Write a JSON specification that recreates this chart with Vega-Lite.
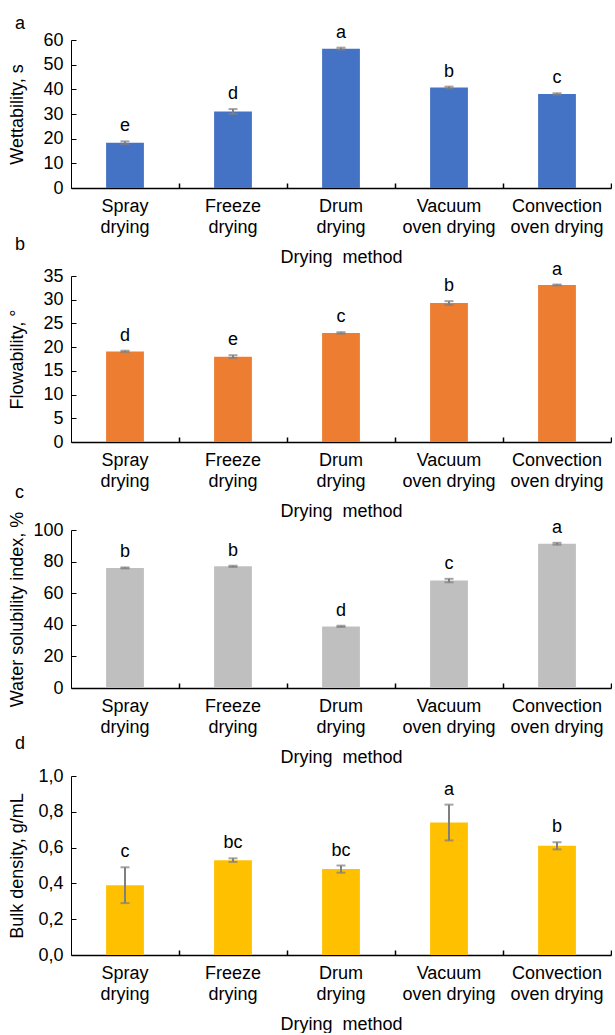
{
  "$schema": "https://vega.github.io/schema/vega-lite/v6.json",
  "padding": {"top": 14, "left": 8, "right": 0, "bottom": 0},
  "bounds": "flush",
  "spacing": 88,
  "config": {
    "view": {"stroke": null},
    "font": "Liberation Sans",
    "axis": {"labelFont": "Liberation Sans", "titleFont": "Liberation Sans", "labelFontSize": 18, "titleFontSize": 18, "labelColor": "#000", "titleColor": "#000", "titleFontWeight": "normal", "domainColor": "#000", "tickColor": "#000", "grid": false},
    "axisY": {"labelOverlap": false, "labelFlush": false},
    "title": {"font": "Liberation Sans", "fontSize": 18, "fontWeight": "normal", "color": "#000", "anchor": "start", "frame": "group", "dx": -56}
  },
  "datasets": {
    "wet": [
      {"method": "Spray drying", "mean": 18.3, "lo": 17.8, "hi": 18.9, "letter": "e"},
      {"method": "Freeze drying", "mean": 31.0, "lo": 30.0, "hi": 32.0, "letter": "d"},
      {"method": "Drum drying", "mean": 56.5, "lo": 56.1, "hi": 56.9, "letter": "a"},
      {"method": "Vacuum oven drying", "mean": 40.7, "lo": 40.3, "hi": 41.1, "letter": "b"},
      {"method": "Convection oven drying", "mean": 38.1, "lo": 37.8, "hi": 38.4, "letter": "c"}
    ],
    "flow": [
      {"method": "Spray drying", "mean": 19.1, "lo": 18.95, "hi": 19.25, "letter": "d"},
      {"method": "Freeze drying", "mean": 18.0, "lo": 17.7, "hi": 18.3, "letter": "e"},
      {"method": "Drum drying", "mean": 23.0, "lo": 22.85, "hi": 23.15, "letter": "c"},
      {"method": "Vacuum oven drying", "mean": 29.3, "lo": 28.9, "hi": 29.7, "letter": "b"},
      {"method": "Convection oven drying", "mean": 33.1, "lo": 33.0, "hi": 33.2, "letter": "a"}
    ],
    "wsi": [
      {"method": "Spray drying", "mean": 76.0, "lo": 75.7, "hi": 76.3, "letter": "b"},
      {"method": "Freeze drying", "mean": 77.0, "lo": 76.6, "hi": 77.4, "letter": "b"},
      {"method": "Drum drying", "mean": 39.0, "lo": 38.6, "hi": 39.4, "letter": "d"},
      {"method": "Vacuum oven drying", "mean": 68.0, "lo": 66.9, "hi": 69.1, "letter": "c"},
      {"method": "Convection oven drying", "mean": 91.3, "lo": 90.7, "hi": 91.9, "letter": "a"}
    ],
    "bulk": [
      {"method": "Spray drying", "mean": 0.39, "lo": 0.29, "hi": 0.49, "letter": "c"},
      {"method": "Freeze drying", "mean": 0.53, "lo": 0.52, "hi": 0.54, "letter": "bc"},
      {"method": "Drum drying", "mean": 0.48, "lo": 0.46, "hi": 0.50, "letter": "bc"},
      {"method": "Vacuum oven drying", "mean": 0.74, "lo": 0.64, "hi": 0.84, "letter": "a"},
      {"method": "Convection oven drying", "mean": 0.61, "lo": 0.59, "hi": 0.63, "letter": "b"}
    ]
  },
  "vconcat": [
    {
      "width": 540, "height": 148,
      "title": {"text": "a", "offset": -9},
      "data": {"name": "wet"},
      "resolve": {"axis": {"y": "independent"}},
      "encoding": {"x": {"field": "method", "type": "nominal", "sort": null, "scale": {"paddingInner": 0.65, "paddingOuter": 0.325},
        "axis": {"title": "Drying\u00a0\u00a0method", "labelAngle": 0, "labelExpr": "datum.label == 'Vacuum oven drying' ? ['Vacuum', 'oven drying'] : datum.label == 'Convection oven drying' ? ['Convection', 'oven drying'] : split(datum.label, ' ')", "labelLineHeight": 21, "labelBaseline": "top", "labelPadding": 14, "tickSize": -5, "tickWidth": 1.5, "bandPosition": 1.9286, "domainWidth": 1.5, "titlePadding": 12}}},
      "layer": [
        {"mark": {"type": "bar", "color": "#4472C4"}, "encoding": {"y": {"field": "mean", "type": "quantitative", "scale": {"domain": [0, 60], "nice": false}, "axis": {"title": "Wettability, s", "values": [0, 10, 20, 30, 40, 50, 60], "labelOverlap": false, "tickSize": -5, "labelPadding": 13, "titlePadding": 16}}}},
        {"mark": {"type": "rule", "color": "#7f7f7f", "strokeWidth": 2}, "encoding": {"y": {"field": "lo", "type": "quantitative", "axis": null}, "y2": {"field": "hi"}}},
        {"mark": {"type": "tick", "color": "#7f7f7f", "thickness": 2, "size": 9, "orient": "horizontal"}, "encoding": {"y": {"field": "lo", "type": "quantitative", "axis": null}}},
        {"mark": {"type": "tick", "color": "#7f7f7f", "thickness": 2, "size": 9, "orient": "horizontal"}, "encoding": {"y": {"field": "hi", "type": "quantitative", "axis": null}}},
        {"mark": {"type": "text", "baseline": "alphabetic", "dy": -10, "fontSize": 18, "color": "#000"}, "encoding": {"y": {"field": "hi", "type": "quantitative", "axis": null}, "text": {"field": "letter"}}}
      ]
    },
    {
      "width": 540, "height": 166,
      "title": {"text": "b", "offset": 7},
      "data": {"name": "flow"},
      "resolve": {"axis": {"y": "independent"}},
      "encoding": {"x": {"field": "method", "type": "nominal", "sort": null, "scale": {"paddingInner": 0.65, "paddingOuter": 0.325},
        "axis": {"title": "Drying\u00a0\u00a0method", "labelAngle": 0, "labelExpr": "datum.label == 'Vacuum oven drying' ? ['Vacuum', 'oven drying'] : datum.label == 'Convection oven drying' ? ['Convection', 'oven drying'] : split(datum.label, ' ')", "labelLineHeight": 21, "labelBaseline": "top", "labelPadding": 14, "tickSize": -5, "tickWidth": 1.5, "bandPosition": 1.9286, "domainWidth": 1.5, "titlePadding": 12}}},
      "layer": [
        {"mark": {"type": "bar", "color": "#ED7D31"}, "encoding": {"y": {"field": "mean", "type": "quantitative", "scale": {"domain": [0, 35], "nice": false}, "axis": {"title": "Flowability, °", "values": [0, 5, 10, 15, 20, 25, 30, 35], "labelOverlap": false, "tickSize": -5, "labelPadding": 13, "titlePadding": 16}}}},
        {"mark": {"type": "rule", "color": "#7f7f7f", "strokeWidth": 2}, "encoding": {"y": {"field": "lo", "type": "quantitative", "axis": null}, "y2": {"field": "hi"}}},
        {"mark": {"type": "tick", "color": "#7f7f7f", "thickness": 2, "size": 9, "orient": "horizontal"}, "encoding": {"y": {"field": "lo", "type": "quantitative", "axis": null}}},
        {"mark": {"type": "tick", "color": "#7f7f7f", "thickness": 2, "size": 9, "orient": "horizontal"}, "encoding": {"y": {"field": "hi", "type": "quantitative", "axis": null}}},
        {"mark": {"type": "text", "baseline": "alphabetic", "dy": -10, "fontSize": 18, "color": "#000"}, "encoding": {"y": {"field": "hi", "type": "quantitative", "axis": null}, "text": {"field": "letter"}}}
      ]
    },
    {
      "width": 540, "height": 158,
      "title": {"text": "c", "offset": 9},
      "data": {"name": "wsi"},
      "resolve": {"axis": {"y": "independent"}},
      "encoding": {"x": {"field": "method", "type": "nominal", "sort": null, "scale": {"paddingInner": 0.65, "paddingOuter": 0.325},
        "axis": {"title": "Drying\u00a0\u00a0method", "labelAngle": 0, "labelExpr": "datum.label == 'Vacuum oven drying' ? ['Vacuum', 'oven drying'] : datum.label == 'Convection oven drying' ? ['Convection', 'oven drying'] : split(datum.label, ' ')", "labelLineHeight": 21, "labelBaseline": "top", "labelPadding": 14, "tickSize": -5, "tickWidth": 1.5, "bandPosition": 1.9286, "domainWidth": 1.5, "titlePadding": 12}}},
      "layer": [
        {"mark": {"type": "bar", "color": "#BFBFBF"}, "encoding": {"y": {"field": "mean", "type": "quantitative", "scale": {"domain": [0, 100], "nice": false}, "axis": {"title": "Water solubility index, %", "values": [0, 20, 40, 60, 80, 100], "labelOverlap": false, "tickSize": -5, "labelPadding": 13, "titlePadding": 6}}}},
        {"mark": {"type": "rule", "color": "#7f7f7f", "strokeWidth": 2}, "encoding": {"y": {"field": "lo", "type": "quantitative", "axis": null}, "y2": {"field": "hi"}}},
        {"mark": {"type": "tick", "color": "#7f7f7f", "thickness": 2, "size": 9, "orient": "horizontal"}, "encoding": {"y": {"field": "lo", "type": "quantitative", "axis": null}}},
        {"mark": {"type": "tick", "color": "#7f7f7f", "thickness": 2, "size": 9, "orient": "horizontal"}, "encoding": {"y": {"field": "hi", "type": "quantitative", "axis": null}}},
        {"mark": {"type": "text", "baseline": "alphabetic", "dy": -10, "fontSize": 18, "color": "#000"}, "encoding": {"y": {"field": "hi", "type": "quantitative", "axis": null}, "text": {"field": "letter"}}}
      ]
    },
    {
      "width": 540, "height": 179,
      "title": {"text": "d", "offset": 14},
      "data": {"name": "bulk"},
      "resolve": {"axis": {"y": "independent"}},
      "encoding": {"x": {"field": "method", "type": "nominal", "sort": null, "scale": {"paddingInner": 0.65, "paddingOuter": 0.325},
        "axis": {"title": "Drying\u00a0\u00a0method", "labelAngle": 0, "labelExpr": "datum.label == 'Vacuum oven drying' ? ['Vacuum', 'oven drying'] : datum.label == 'Convection oven drying' ? ['Convection', 'oven drying'] : split(datum.label, ' ')", "labelLineHeight": 21, "labelBaseline": "top", "labelPadding": 14, "tickSize": -5, "tickWidth": 1.5, "bandPosition": 1.9286, "domainWidth": 1.5, "titlePadding": 12}}},
      "layer": [
        {"mark": {"type": "bar", "color": "#FFC000"}, "encoding": {"y": {"field": "mean", "type": "quantitative", "scale": {"domain": [0, 1], "nice": false}, "axis": {"title": "Bulk density, g/mL", "values": [0, 0.2, 0.4, 0.6, 0.8, 1], "labelOverlap": false, "labelExpr": "replace(format(datum.value, '.1f'), '.', ',')", "tickSize": -5, "labelPadding": 13, "titlePadding": 11}}}},
        {"mark": {"type": "rule", "color": "#7f7f7f", "strokeWidth": 2}, "encoding": {"y": {"field": "lo", "type": "quantitative", "axis": null}, "y2": {"field": "hi"}}},
        {"mark": {"type": "tick", "color": "#7f7f7f", "thickness": 2, "size": 9, "orient": "horizontal"}, "encoding": {"y": {"field": "lo", "type": "quantitative", "axis": null}}},
        {"mark": {"type": "tick", "color": "#7f7f7f", "thickness": 2, "size": 9, "orient": "horizontal"}, "encoding": {"y": {"field": "hi", "type": "quantitative", "axis": null}}},
        {"mark": {"type": "text", "baseline": "alphabetic", "dy": -10, "fontSize": 18, "color": "#000"}, "encoding": {"y": {"field": "hi", "type": "quantitative", "axis": null}, "text": {"field": "letter"}}}
      ]
    }
  ]
}
